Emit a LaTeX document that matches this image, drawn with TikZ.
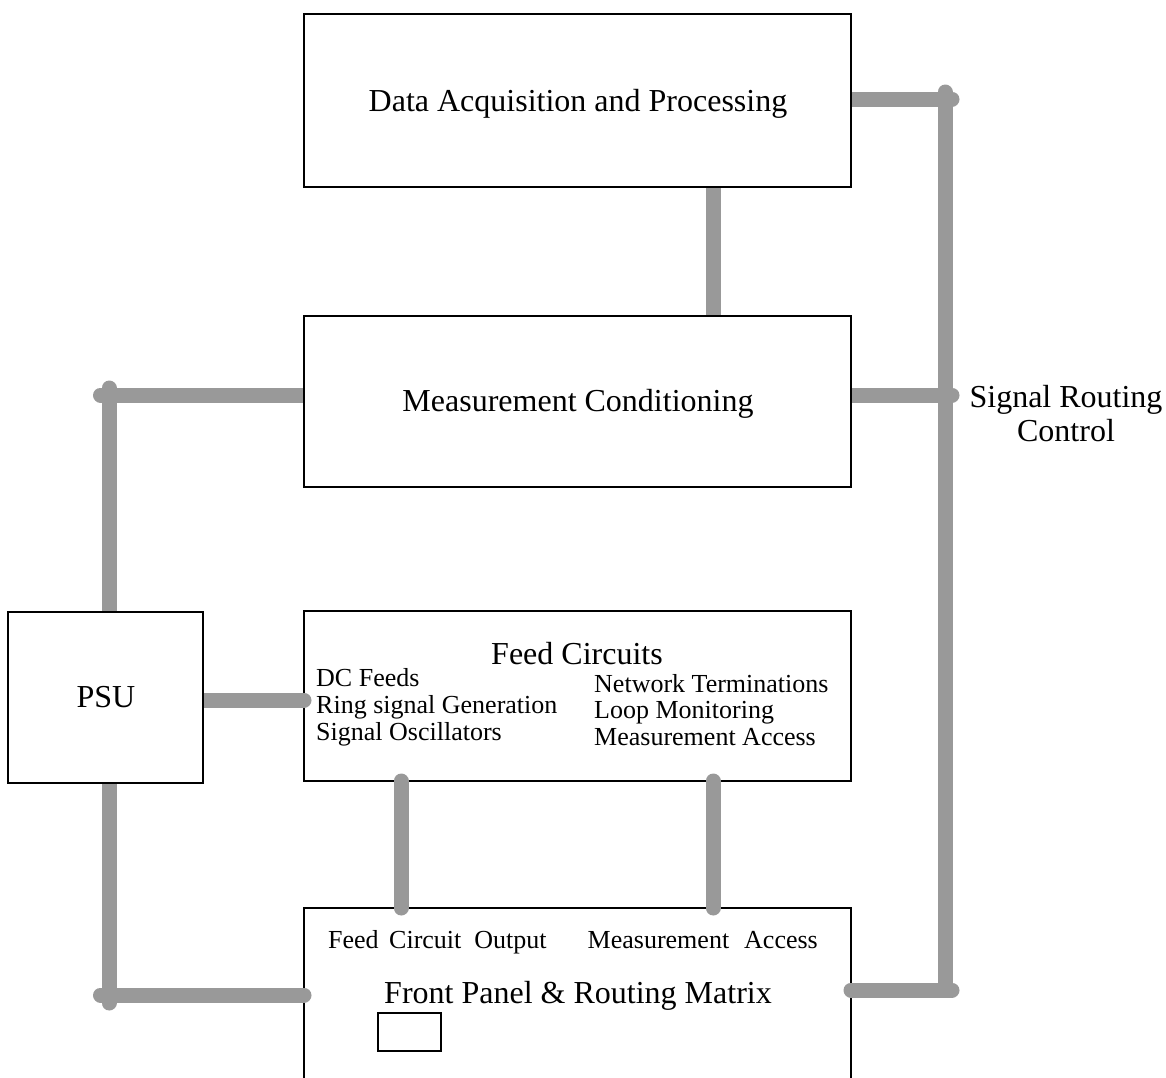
\documentclass[tikz,border=0pt]{standalone}
\usepackage{fontspec}
\setmainfont{Liberation Serif}
\definecolor{busgray}{HTML}{999999}
\begin{document}
\begin{tikzpicture}[x=1pt,y=-1pt,
  box/.style={draw=black,line width=1.8pt,fill=white,inner sep=0pt,outer sep=0pt},
  bus/.style={line width=15pt,draw=busgray,line cap=round},
  busflat/.style={line width=15pt,draw=busgray,line cap=butt},
  big/.style={inner sep=0pt,font=\fontsize{32}{38}\selectfont},
  sub/.style={inner sep=0pt,anchor=base west,font=\fontsize{26}{28}\selectfont}]
\useasboundingbox (0,0) rectangle (1166,1077);
\clip (0,0) rectangle (1166,1077);
\fill[white] (0,0) rectangle (1166,1077);

% junction coordinates
\coordinate (rt) at (945,92);
\coordinate (rb) at (945,990);
\coordinate (jda) at (952,99);
\coordinate (jmc) at (952,395);
\coordinate (jfp) at (952,990);
\coordinate (lt) at (109,388);
\coordinate (lb) at (109,1003);
\coordinate (jml) at (100.5,395);
\coordinate (jfl) at (100.5,995);
\coordinate (xa) at (713,0);
\coordinate (xb) at (401,0);
\coordinate (py) at (0,700);

\path (577.5,100.5) coordinate (dac) (577.5,401.5) coordinate (mcc);

% lines beneath the boxes
\draw[busflat] (713,187) coordinate (dab) -- (713,316) coordinate (mcn);
\draw[bus] (rt) -- (rb);
\draw[bus] (851,99) coordinate (dae) -- (jda);
\draw[bus] (851,395) coordinate (mce) -- (jmc);
\draw[bus] (jml) -- (304,395) coordinate (mcw);
\draw[bus] (lt) -- (lb);

% boxes
\node[box,minimum width=547pt,minimum height=173pt] (da) at (dac) {};
\node[box,minimum width=547pt,minimum height=171pt] (mc) at (mcc) {};
\node[box,minimum width=547pt,minimum height=170pt] (fc) at (577.5,696) {};
\node[box,minimum width=547pt,minimum height=182pt] (fp) at (577.5,999) {};

% PSU to feed circuits
\draw[bus] (203,700) -- (fc.west |- py);
\node[box,minimum width=195pt,minimum height=171pt] (psu) at (105.5,697.5) {};

% lines above the boxes
\draw[bus] (fc.south -| xb) -- (fp.north -| xb);
\draw[bus] (fc.south -| xa) -- (fp.north -| xa);
\draw[bus] (jfl) -- (fp.west |- jfl);
\draw[bus] (fp.east |- jfp) -- (jfp);

% small box
\node[draw=black,line width=1.8pt,inner sep=0pt,minimum width=63pt,minimum height=38pt] (sb) at (409.5,1032) {};

% labels
\node[big,anchor=base] (dat) at (578,111.5) {Data Acquisition and Processing};
\node[big,anchor=base] (mct) at (578,411) {Measurement Conditioning};
\node[big,anchor=base] (psut) at (106,707) {PSU};
\node[big,anchor=base] (fct) at (577,664) {Feed Circuits};
\node[big,anchor=base] (fpt) at (578,1003) {Front Panel \& Routing Matrix};
\node[big,anchor=base] (src1) at (1066,407) {Signal Routing};
\node[big,anchor=base] (src2) at (1066,441) {Control};

\node[sub] (l1) at (316,686) {DC Feeds};
\node[sub] (l2) at (316,713) {Ring signal Generation};
\node[sub] (l3) at (316,740) {Signal Oscillators};
\node[sub] (r1) at (594,692) {Network Terminations};
\node[sub] (r2) at (594,718.5) {Loop Monitoring};
\node[sub] (r3) at (594,745) {Measurement Access};

\node[sub] (fo) at (328,948) {Feed\hspace{10.5pt}Circuit\hspace{13pt}Output};
\node[sub] (ma) at (587.5,948) {Measurement\hspace{15pt}Access};
\end{tikzpicture}
\end{document}
